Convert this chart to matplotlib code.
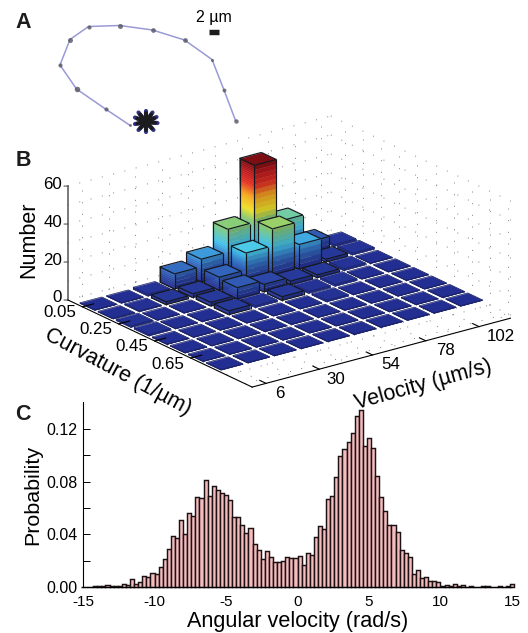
import numpy as np
import matplotlib
matplotlib.use("Agg")
import matplotlib.pyplot as plt
from matplotlib.colors import LinearSegmentedColormap
from mpl_toolkits.mplot3d import proj3d
from mpl_toolkits.mplot3d.art3d import Poly3DCollection, Line3DCollection

plt.rcParams['font.family'] = ['Liberation Sans', 'DejaVu Sans']

W, H = 528, 633

# ---------- Panel A data (micrometres) ----------
path_x = [25.9, 21.1, 15.3, 12.0, 14.0, 17.7, 23.9, 30.5, 36.9, 42.4, 44.8, 47.1]
path_y = [25.0, 21.8, 17.8, 13.0, 7.9, 5.3, 5.1, 6.0, 8.0, 11.9, 18.0, 24.1]
blob_size = [2.0, 3.0, 4.0, 3.0, 3.6, 3.0, 3.6, 3.4, 3.4, 2.2, 2.8, 3.2]
star_cx, star_cy = 29.2, 24.4
star_tip_x = [29.2, 30.5, 31.3, 31.5, 30.7, 29.2, 27.7, 27.0, 27.0, 27.7]
star_tip_y = [22.2, 22.5, 23.4, 24.6, 26.0, 26.4, 26.0, 24.8, 23.5, 22.5]
scale_x = [41.7, 43.7]
scale_y = 6.3

# ---------- Panel B data ----------
velocity = [6, 18, 30, 42, 54, 66, 78, 90, 102, 114]
curvature = [0.05, 0.15, 0.25, 0.35, 0.45, 0.55, 0.65, 0.75]
number = [
    [0.3, 0.3, 1.0, 8.0, 12.0, 24.0, 54.0, 21.0, 6.0, 1.0],
    [0.3, 0.5, 1.5, 2.0, 7.0, 16.0, 25.0, 13.0, 1.5, 1.0],
    [0.8, 0.3, 0.3, 2.0, 6.0, 4.0, 2.0, 1.5, 1.0, 0.3],
    [0.8, 0.3, 0.3, 2.0, 1.0, 2.0, 1.0, 1.0, 0.3, 0.3],
    [0.3, 0.3, 0.3, 0.3, 0.3, 0.3, 0.8, 0.3, 0.3, 0.3],
    [0.3, 0.3, 0.3, 0.3, 0.3, 0.3, 0.3, 0.3, 0.3, 0.3],
    [0.3, 0.3, 0.3, 0.3, 0.3, 0.3, 0.3, 0.3, 0.3, 0.3],
    [0.3, 0.3, 0.3, 0.3, 0.3, 0.3, 0.3, 0.3, 0.3, 0.3],
]
vel_ticks = [6, 30, 54, 78, 102]
vel_grid = [6, 18, 30, 42, 54, 66, 78, 90, 102, 114]
curv_ticks = [0.05, 0.25, 0.45, 0.65]
curv_grid = [0.05, 0.15, 0.25, 0.35, 0.45, 0.55, 0.65, 0.75, 0.85, 0.95]
num_ticks = [0, 20, 40, 60]
num_grid = [0, 10, 20, 30, 40, 50, 60]

# ---------- Panel C data ----------
prob = [0, 0, .0002, .0005, .0005, .001, .0015, .0005, .0005, .0005,
        .002, .0015, .006, .002, .0035, .008, .0075, .0105, .0095, .015,
        .021, .0285, .039, .037, .051, .040, .056, .054, .068, .0675,
        .081, .069, .077, .0735, .071, .0695, .066, .0535, .0535, .047,
        .041, .0445, .033, .028, .021, .0275, .0225, .019, .019, .020,
        .023, .0218, .022, .0238, .017, .026, .024, .038, .046, .044,
        .067, .069, .0835, .0995, .105, .110, .117, .1295, .134, .107,
        .113, .1055, .0845, .068, .058, .047, .047, .042, .028, .0255,
        .023, .010, .013, .007, .0075, .0045, .0045, .0035, .001, .0015,
        .0005, .002, .0005, .0015, .0003, .0005, .0002, 0, .0005, .001,
        0, 0, .001, 0, .0005, .002]
ang_ticks = [-15, -10, -5, 0, 5, 10, 15]
prob_ticks = [0, .02, .04, .06, .08, .10, .12]
prob_labels = ['0.00', '', '0.04', '', '0.08', '', '0.12']

fig = plt.figure(figsize=(W / 100, H / 100), dpi=100)


def rect(x0, y0, x1, y1):
    return [x0 / W, 1 - y1 / H, (x1 - x0) / W, (y1 - y0) / H]


# ---------- Panel C ----------
axc = fig.add_axes(rect(83, 402, 512, 587))
centers = np.linspace(-15, 15, len(prob))
axc.bar(centers, prob, width=centers[1] - centers[0], color='#f4bcbc',
        edgecolor='#1c1214', linewidth=1.05, clip_on=False)
axc.set_xlim(-15, 15)
axc.set_ylim(0, 0.1404)
axc.spines['top'].set_visible(False)
axc.spines['right'].set_visible(False)
axc.set_xticks(ang_ticks)
axc.set_xticklabels([str(t) for t in ang_ticks], fontsize=11)
axc.set_yticks(prob_ticks)
axc.set_yticklabels(prob_labels, fontsize=11.5)
axc.tick_params(axis='x', length=0, pad=6)
axc.tick_params(axis='y', direction='in', length=5, width=0.7, pad=4)
axc.set_xlabel('Angular velocity (rad/s)', fontsize=15.6, labelpad=1)
axc.set_ylabel('Probability', fontsize=15.4, labelpad=3)

# ---------- Panel B ----------
jet_nodes = [(0, (35, 45, 145)), (.08, (45, 75, 170)), (.18, (55, 125, 205)),
             (.28, (70, 200, 240)), (.38, (110, 205, 170)), (.45, (140, 205, 115)),
             (.55, (245, 230, 40)), (.68, (250, 170, 30)), (.8, (235, 50, 35)),
             (.92, (190, 25, 30)), (1, (125, 15, 20))]
cmap = LinearSegmentedColormap.from_list(
    'muted_jet', [(p, tuple(c / 255 for c in rgb)) for p, rgb in jet_nodes])

ax = fig.add_axes(rect(100, 100, 400, 400), projection='3d', computed_zorder=False)
ax.patch.set_alpha(0)
ax.set_proj_type('ortho')
ax.view_init(elev=20.8, azim=233.1)
ax.set_box_aspect((329, 307, 122), zoom=1)
vmin, vmax = -0.3, 118.2
cmin, cmax = -0.03, 0.99
ax.set_xlim(vmin, vmax)
ax.set_ylim(cmax, cmin)
ax.set_zlim(0, 60)
ax.set_axis_off()


def to_px(v, c, z):
    x, y, _ = proj3d.proj_transform(v, c, z, ax.get_proj())
    d = ax.transData.transform((x, y))
    return d[0], H - d[1]


def to_2d(v, c, z):
    x, y, _ = proj3d.proj_transform(v, c, z, ax.get_proj())
    return x, y


# fit the projected floor onto the reference's pixels
tl, tr = np.array([68.0, 300.0]), np.array([515.0, 315.0])
size = 300.0
x0, y0 = 100.0, 100.0
for _ in range(4):
    ax.set_position(rect(x0, y0, x0 + size, y0 + size))
    ax.apply_aspect()
    pl, pr = np.array(to_px(vmin, cmin, 0)), np.array(to_px(vmax, cmax, 0))
    size *= np.linalg.norm(tr - tl) / np.linalg.norm(pr - pl)
    ax.set_position(rect(x0, y0, x0 + size, y0 + size))
    ax.apply_aspect()
    pl = np.array(to_px(vmin, cmin, 0))
    x0 += tl[0] - pl[0]
    y0 += tl[1] - pl[1]
ax.set_position(rect(x0, y0, x0 + size, y0 + size))
ax.apply_aspect()

zo = 1
# dotted grid on walls and floor
dot = dict(color='#808080', lw=0.7, linestyle=(0, (1, 11)), zorder=zo)
for t in num_grid:
    ax.plot([vmin, vmax], [cmin, cmin], [t, t], **dot)
    ax.plot([vmax, vmax], [cmin, cmax], [t, t], **dot)
for t in vel_grid:
    ax.plot([t, t], [cmin, cmin], [0, 60], **dot)
    ax.plot([t, t], [cmin, cmax], [0, 0], **dot)
for t in curv_grid:
    ax.plot([vmax, vmax], [t, t], [0, 60], **dot)
    ax.plot([vmin, vmax], [t, t], [0, 0], **dot)

# bars painted back to front
dv = (velocity[1] - velocity[0]) * 0.41
dc = (curvature[1] - curvature[0]) * 0.41
cell_shift = 0.01
vals = np.array(number, dtype=float)
peak = vals.max()
zo = 2
edge_dark = '#15181f'
edge_navy = '#1a2160'
for ci, c0 in enumerate(curvature):
    c = c0 + cell_shift
    for vi in range(len(velocity) - 1, -1, -1):
        v = velocity[vi]
        h = vals[ci, vi]
        polys, cols = [], []
        # smooth left face
        zs = np.linspace(0, h, max(1, int(np.ceil(h / 1.0))) + 1)
        for a, b in zip(zs[:-1], zs[1:]):
            col = np.array(cmap(0.5 * (a + b) / peak)[:3])
            polys.append([(v - dv, c - dc, a), (v - dv, c + dc, a),
                          (v - dv, c + dc, b), (v - dv, c - dc, b)])
            cols.append(tuple(col * 0.98))
        # banded, darker right face
        zs = np.linspace(0, h, max(1, int(np.ceil(h / 2.6))) + 1)
        for a, b in zip(zs[:-1], zs[1:]):
            col = np.array(cmap(0.5 * (a + b) / peak)[:3])
            polys.append([(v - dv, c + dc, a), (v + dv, c + dc, a),
                          (v + dv, c + dc, b), (v - dv, c + dc, b)])
            cols.append(tuple(col * 0.84))
        p = Poly3DCollection(polys, facecolors=cols, edgecolors=cols,
                             linewidths=0.25, zorder=zo)
        ax.add_collection3d(p, autolim=False)
        zo += 1
        top = [(v - dv, c - dc, h), (v - dv, c + dc, h), (v + dv, c + dc, h), (v + dv, c - dc, h)]
        tcol = cmap(h / peak)
        p = Poly3DCollection([top], facecolors=[tcol], edgecolors=[tcol],
                             linewidths=0.25, zorder=zo)
        ax.add_collection3d(p, autolim=False)
        zo += 1
        segs = [[top[0], top[1]], [top[1], top[2]], [top[2], top[3]], [top[3], top[0]],
                [(v - dv, c - dc, 0), (v - dv, c + dc, 0)],
                [(v - dv, c + dc, 0), (v + dv, c + dc, 0)],
                [(v - dv, c - dc, 0), (v - dv, c - dc, h)],
                [(v - dv, c + dc, 0), (v - dv, c + dc, h)],
                [(v + dv, c + dc, 0), (v + dv, c + dc, h)]]
        big = h > 1.2
        lc = Line3DCollection(segs, colors=edge_dark if big else edge_navy,
                              linewidths=0.85 if big else 0.5, zorder=zo)
        ax.add_collection3d(lc, autolim=False)
        zo += 1

# axes lines and ticks
ax.plot([vmin, vmin], [cmin, cmin], [0, 60], color='#555555', lw=1.1, zorder=zo)
ax.plot([vmin, vmin], [cmin, cmax], [0, 0], color='black', lw=0.8, zorder=zo)
ax.plot([vmin, vmax], [cmax, cmax], [0, 0], color='black', lw=0.8, zorder=zo)
for i, t in enumerate(vel_ticks):
    ax.plot([t, t], [cmax - 0.035, cmax], [0, 0], color='black', lw=0.8, zorder=zo)
    x, y = to_2d(t, cmax, 0)
    ax.annotate(str(t), (x, y), xytext=(14 + 2 * i, -10), textcoords='offset pixels',
                ha='center', va='center', fontsize=12.2, annotation_clip=False, zorder=zo)
for t in curv_ticks:
    ax.plot([vmin, vmin + 5], [t, t], [0, 0], color='black', lw=0.8, zorder=zo)
    x, y = to_2d(vmin, t, 0)
    ax.annotate('%.2f' % t, (x, y), xytext=(-23, -6), textcoords='offset pixels',
                ha='center', va='center', fontsize=12.2, annotation_clip=False, zorder=zo)
for t in num_ticks:
    x, y = to_2d(vmin, cmin, t)
    ax.annotate(str(t), (x, y), xytext=(-6, 2), textcoords='offset pixels',
                ha='right', va='center', fontsize=12.2, annotation_clip=False, zorder=zo)
    ax.annotate('', (x, y), xytext=(-4, 0), textcoords='offset pixels',
                arrowprops=dict(arrowstyle='-', color='#555555', lw=0.8, shrinkA=0, shrinkB=0),
                annotation_clip=False)
x, y = to_2d(vmin, cmin, 30)
ax.annotate('Number', (x, y), xytext=(-39, 3), textcoords='offset pixels', rotation=90,
            ha='center', va='center', fontsize=15.5, annotation_clip=False, zorder=zo)
x, y = to_2d(vmin, 0.5 * (cmin + cmax), 0)
ax.annotate('Curvature (1/µm)', (x, y), xytext=(-42, -28), textcoords='offset pixels',
            rotation=-28, rotation_mode='anchor', ha='center', va='center',
            fontsize=15.5, annotation_clip=False, zorder=zo)
x, y = to_2d(0.5 * (vmin + vmax), cmax, 0)
ax.annotate('Velocity (µm/s)', (x, y), xytext=(40, -33), textcoords='offset pixels',
            rotation=15.5, rotation_mode='anchor', ha='center', va='center',
            fontsize=15.5, annotation_clip=False, zorder=zo)

# ---------- Panel A ----------
axa = fig.add_axes(rect(0, 0, 264, 150))
axa.patch.set_alpha(0)
axa.set_xlim(0, 264 / 5)
axa.set_ylim(150 / 5, 0)
axa.axis('off')
axa.plot(path_x, path_y, color='#9a9ad6', lw=1.1, zorder=1)
for x, y, s in zip(path_x, path_y, blob_size):
    axa.plot([x], [y], 'o', ms=s, color='#555560', mec='none', alpha=0.8, zorder=2)
for x, y in zip(star_tip_x, star_tip_y):
    axa.plot([star_cx, x], [star_cy, y], color='#33338a', lw=3.0, zorder=3, solid_capstyle='round')
for x, y in zip(star_tip_x, star_tip_y):
    axa.plot([star_cx, star_cx + 0.8 * (x - star_cx)], [star_cy, star_cy + 0.8 * (y - star_cy)],
             color='#1c1c1e', lw=2.8, zorder=4, solid_capstyle='round')
axa.plot(scale_x, [scale_y, scale_y], color='#1c1c1c', lw=3.9, solid_capstyle='butt')
axa.text(np.mean(scale_x), 3.5, '2 µm', ha='center', va='center', fontsize=11.5)

# ---------- Panel letters ----------
for label, px, py in [('A', 23, 22), ('B', 23, 160), ('C', 23, 415)]:
    fig.text(px / W, 1 - py / H, label, fontsize=15.5, fontweight='bold',
             ha='center', va='center', color='#1c1c1c')

fig.savefig('out.png', dpi=100)
